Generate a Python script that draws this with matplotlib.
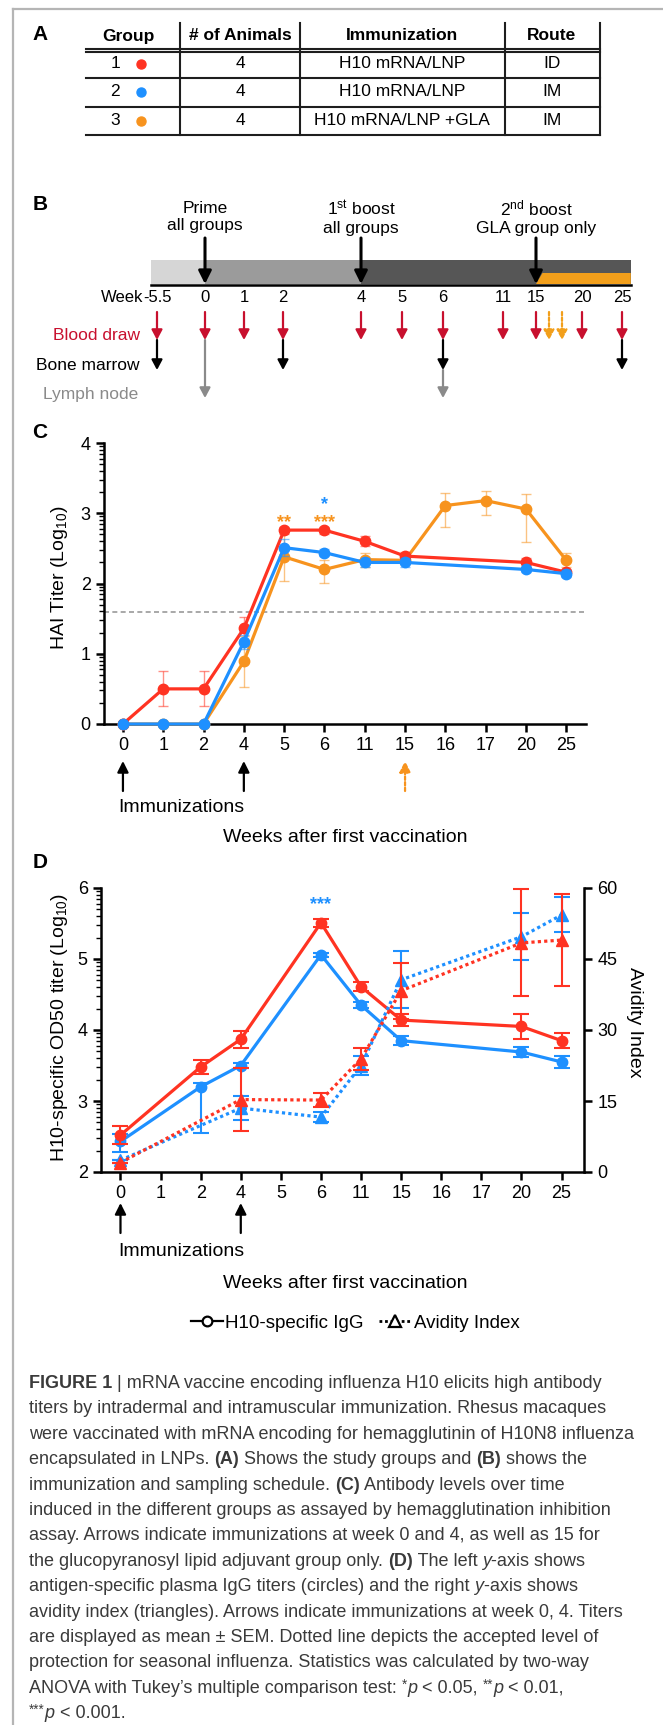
import numpy as np
import matplotlib
matplotlib.use('Agg')
import matplotlib.pyplot as plt
from matplotlib.lines import Line2D
from matplotlib.patches import Rectangle, Polygon

plt.rcParams['font.family'] = ['Liberation Sans', 'DejaVu Sans']
plt.rcParams['mathtext.fontset'] = 'custom'
plt.rcParams['mathtext.rm'] = 'Liberation Sans'
plt.rcParams['mathtext.it'] = 'Liberation Sans:italic'
plt.rcParams['mathtext.bf'] = 'Liberation Sans:bold'

nan = np.nan
# ---------------- data ----------------
# Panel A
table_headers = ['Group', '# of Animals', 'Immunization', 'Route']
groups = ['1', '2', '3']
n_animals = ['4', '4', '4']
immunization = ['H10 mRNA/LNP', 'H10 mRNA/LNP', 'H10 mRNA/LNP +GLA']
routes = ['ID', 'IM', 'IM']
RED, BLUE, ORANGE = '#FF3322', '#1E90FF', '#F7931E'
group_colors = [RED, BLUE, ORANGE]

# Panel B
sched_labels = ['Prime\nall groups', '1$^{\\mathrm{st}}$ boost\nall groups',
                '2$^{\\mathrm{nd}}$ boost\nGLA group only']
sched_weeks = [0, 4, 15]
week_ticks = [-5.5, 0, 1, 2, 4, 5, 6, 11, 15, 20, 25]
week_tick_labels = ['-5.5', '0', '1', '2', '4', '5', '6', '11', '15', '20', '25']
blood_weeks = [-5.5, 0, 1, 2, 4, 5, 6, 11, 15, 20, 25]
gla_blood_weeks = [16, 17]
marrow_weeks = [-5.5, 2, 6, 25]
lymph_weeks = [0, 6]

# Panel C  (HAI titer, log10)
weeks = ['0', '1', '2', '4', '5', '6', '11', '15', '16', '17', '20', '25']
hai_g1 = [0, 0.50, 0.50, 1.36, 2.76, 2.76, 2.60, 2.39, nan, nan, 2.30, 2.16]
hai_g1_sem = [0, 0.25, 0.25, 0.17, 0.05, 0.05, 0.07, 0.06, nan, nan, 0.06, 0.03]
hai_g2 = [0, 0, 0, 1.17, 2.51, 2.44, 2.30, 2.30, nan, nan, 2.20, 2.14]
hai_g2_sem = [0, 0, 0, 0.10, 0.12, 0.05, 0.07, 0.07, nan, nan, 0.03, 0.05]
hai_g3 = [0, 0, 0, 0.89, 2.38, 2.20, 2.34, 2.33, 3.11, 3.18, 3.06, 2.33]
hai_g3_sem_lo = [0, 0, 0, 0.36, 0.35, 0.19, 0.10, 0.05, 0.30, 0.21, 0.47, 0.10]
hai_g3_sem_hi = [0, 0, 0, 0.36, 0.35, 0.13, 0.10, 0.05, 0.18, 0.14, 0.21, 0.10]
protection_level = 1.6
imm_weeks = ['0', '4']
gla_boost_weeks = ['15']

# Panel D
igg_g1 = [2.52, nan, 3.48, 3.87, nan, 5.51, 4.61, 4.14, nan, nan, 4.05, 3.85]
igg_g1_sem = [0.13, nan, 0.10, 0.12, nan, 0.06, 0.06, 0.09, nan, nan, 0.17, 0.11]
igg_g2 = [2.43, nan, 3.20, 3.50, nan, 5.06, 4.35, 3.85, nan, nan, 3.69, 3.55]
igg_g2_sem_lo = [0.15, nan, 0.65, 0.04, nan, 0.03, 0.04, 0.06, nan, nan, 0.07, 0.08]
igg_g2_sem_hi = [0.10, nan, 0.05, 0.04, nan, 0.03, 0.04, 0.06, nan, nan, 0.07, 0.08]
avid_g1 = [2.0, nan, nan, 15.3, nan, 15.2, 23.9, 38.3, nan, nan, 48.4, 49.0]
avid_g1_sem = [0, nan, nan, 6.6, nan, 1.5, 2.4, 5.9, nan, nan, 11.3, 9.8]
avid_g2 = [2.5, nan, nan, 13.5, nan, 11.6, 22.5, 40.6, nan, nan, 49.7, 54.3]
avid_g2_sem = [0, nan, nan, 2.5, nan, 1.0, 2.0, 6.0, nan, nan, 5.0, 3.7]

# ---------------- figure ----------------
W, H = 663, 1725
fig = plt.figure(figsize=(W / 100, H / 100), dpi=100)


def rect(l, t, r, b):
    return [l / W, 1 - b / H, (r - l) / W, (b - t) / H]


ax0 = fig.add_axes([0, 0, 1, 1])
ax0.set_xlim(0, W)
ax0.set_ylim(H, 0)
ax0.axis('off')

# frame
ax0.plot([13, 13], [9, H], color='#b5b5b5', lw=1.6)
ax0.plot([13, W], [9, 9], color='#b5b5b5', lw=1.6)

for lab, y in zip('ABCD', [35, 205, 433, 862]):
    ax0.text(40, y, lab, fontsize=15, fontweight='bold', ha='center', va='center')

# ---------------- Panel A table ----------------
tc = '#1e1e1e'
col_edges = [86, 180, 300, 505, 600]
for y in [48.5, 51.5, 78, 107, 135]:
    ax0.plot([col_edges[0], col_edges[-1]], [y, y], color=tc, lw=1.5)
for x in col_edges[1:]:
    ax0.plot([x, x], [23, 135], color=tc, lw=1.5)
header_x = [128, 240, 402, 552]
for hx, ht in zip(header_x, table_headers):
    ax0.text(hx, 36, ht, fontsize=12.5, fontweight='bold', ha='center', va='center')
row_y = [63.5, 92, 120.5]
for i, ry in enumerate(row_y):
    ax0.text(115, ry, groups[i], fontsize=12.5, ha='center', va='center')
    ax0.plot([141], [ry], 'o', color=group_colors[i], ms=6.5)
    ax0.text(240, ry, n_animals[i], fontsize=12.5, ha='center', va='center')
    ax0.text(402, ry, immunization[i], fontsize=12.5, ha='center', va='center')
    ax0.text(552, ry, routes[i], fontsize=12.5, ha='center', va='center')

# ---------------- Panel B timeline ----------------
kw = np.array([-5.5, 0, 4, 6, 11, 15, 17, 20, 25])
kp = np.array([157, 205, 361, 443, 503, 536, 562, 582, 622], float)
sl = (kp[1] - kp[0]) / (kw[1] - kw[0])
sr = (kp[-1] - kp[-2]) / (kw[-1] - kw[-2])


def fwd(w):
    w = np.asarray(w, float)
    out = np.interp(w, kw, kp)
    out = np.where(w < kw[0], kp[0] + (w - kw[0]) * sl, out)
    out = np.where(w > kw[-1], kp[-1] + (w - kw[-1]) * sr, out)
    return out


def inv(p):
    p = np.asarray(p, float)
    out = np.interp(p, kp, kw)
    out = np.where(p < kp[0], kw[0] + (p - kp[0]) / sl, out)
    out = np.where(p > kp[-1], kw[-1] + (p - kp[-1]) / sr, out)
    return out


axB = fig.add_axes([0, 0, 1, 1])
axB.set_xscale('function', functions=(fwd, inv))
axB.set_xlim(float(inv(0)), float(inv(W)))
axB.set_ylim(H, 0)
axB.axis('off')


def arrow(ax, x, y0, y1, color, ls='-', lw=1.6, hl=0.6, hw=0.32, ms=10, **kw_):
    ax.annotate('', xy=(x, y1), xytext=(x, y0), annotation_clip=False,
                arrowprops=dict(arrowstyle='-|>,head_length=%g,head_width=%g' % (hl, hw),
                                color=color, lw=lw, linestyle=ls, shrinkA=0, shrinkB=0,
                                mutation_scale=ms), **kw_)


bar_start, bar_end = -6.2, 26.1
phase_edges = [bar_start, 0, 4, bar_end]
phase_colors = ['#d6d6d6', '#9b9b9b', '#565656']
for (a, b), c in zip(zip(phase_edges[:-1], phase_edges[1:]), phase_colors):
    axB.add_patch(Rectangle((a, 260), b - a, 24, facecolor=c, edgecolor='none'))
axB.add_patch(Polygon([(15, 284), (15.5, 273), (bar_end, 273), (bar_end, 284)],
                      closed=True, facecolor='#F29F1B', edgecolor='none'))
axB.plot([bar_start, bar_end], [284.5, 284.5], color='black', lw=1.8)

for w, lab in zip(sched_weeks, sched_labels):
    axB.text(w, 217, lab, fontsize=12.5, ha='center', va='center', linespacing=1.2)
    arrow(axB, w, 238, 284, 'black', lw=2.2, hl=0.7, hw=0.35, ms=11)

ax0.text(143, 298, 'Week', fontsize=12, ha='right', va='center')
for w, lab in zip(week_ticks, week_tick_labels):
    axB.text(w, 298, lab, fontsize=12, ha='center', va='center')

CRIM = '#C8102E'
GRAY = '#8a8a8a'
for w in blood_weeks:
    arrow(axB, w, 312, 340, CRIM)
for w in gla_blood_weeks:
    arrow(axB, w, 312, 340, '#F29F1B', ls=(0, (1.5, 1)))
for w in marrow_weeks:
    arrow(axB, w, 340, 370, 'black')
for w in lymph_weeks:
    arrow(axB, w, 370 if w in marrow_weeks else 340, 398, GRAY)

ax0.text(140, 335, 'Blood draw', fontsize=12.5, color=CRIM, ha='right', va='center')
ax0.text(140, 365, 'Bone marrow', fontsize=12.5, color='black', ha='right', va='center')
ax0.text(138, 395, 'Lymph node', fontsize=12.5, color=GRAY, ha='right', va='center')


# ---------------- helpers for C/D ----------------
def series(ax, x, vals, lo, hi, color, marker='o', ls='-', z=3, ealpha=1.0,
           elw=1.5, cap=5, ms=7.5, lw=2.3):
    v = np.asarray(vals, float)
    m = ~np.isnan(v)
    lo = np.asarray(lo, float)
    hi = np.asarray(hi, float)
    ax.errorbar(x[m], v[m], yerr=[lo[m], hi[m]], fmt='none', ecolor=color,
                alpha=ealpha, elinewidth=elw, capsize=cap, capthick=elw,
                zorder=z, clip_on=False)
    ax.plot(x[m], v[m], color=color, lw=lw, ls=ls, marker=marker, ms=ms,
            zorder=z + 0.5, clip_on=False)


def style_axis(ax, lw=1.8):
    ax.set_facecolor('none')
    for s in ['top', 'right']:
        ax.spines[s].set_visible(False)
    for s in ['left', 'bottom']:
        ax.spines[s].set_linewidth(lw)
    ax.tick_params(which='major', direction='out', length=6, width=lw, labelsize=13)
    ax.tick_params(which='minor', direction='out', length=3.5, width=1.0)


x = np.arange(len(weeks))

# ---------------- Panel C ----------------
axC = fig.add_axes(rect(104, 443, 586, 724))
style_axis(axC)
axC.set_xlim(-0.47, 11.49)
axC.set_ylim(0, 4)
axC.set_xticks(x)
axC.set_xticklabels(weeks)
axC.set_yticks([0, 1, 2, 3, 4])
axC.set_yticks([n + np.log10(k) for n in range(4) for k in range(2, 10)], minor=True)
axC.axhline(protection_level, color='#9a9a9a', lw=1.2, ls=(0, (3, 2)), zorder=1)

series(axC, x, hai_g3, hai_g3_sem_lo, hai_g3_sem_hi, ORANGE, z=3, ealpha=0.55, elw=1.0, cap=3.5)
series(axC, x, hai_g1, hai_g1_sem, hai_g1_sem, RED, z=4, ealpha=0.55, elw=1.0, cap=3.5)
series(axC, x, hai_g2, hai_g2_sem, hai_g2_sem, BLUE, z=5, ealpha=0.55, elw=1.0, cap=3.5)

axC.text(weeks.index('5'), 2.86, '**', color=ORANGE, fontsize=13, fontweight='bold', ha='center', va='center')
axC.text(weeks.index('6'), 2.86, '***', color=ORANGE, fontsize=13, fontweight='bold', ha='center', va='center')
axC.text(weeks.index('6'), 3.12, '*', color=BLUE, fontsize=13, fontweight='bold', ha='center', va='center')


def under_arrows(ax, top_px, bot_px, y0_px, y1_px, wk, color, ls='-'):
    f0 = (bot_px - y0_px) / (bot_px - top_px)
    f1 = (bot_px - y1_px) / (bot_px - top_px)
    for w in wk:
        ax.annotate('', xy=(weeks.index(w), f1), xytext=(weeks.index(w), f0),
                    xycoords=ax.get_xaxis_transform(), annotation_clip=False,
                    arrowprops=dict(arrowstyle='-|>,head_length=0.6,head_width=0.3',
                                    color=color, lw=1.6, linestyle=ls, shrinkA=0,
                                    shrinkB=0, mutation_scale=11))


under_arrows(axC, 443, 724, 791, 761, imm_weeks, 'black')
under_arrows(axC, 443, 724, 791, 761, gla_boost_weeks, ORANGE, ls=(0, (1.5, 1)))

ax0.text(118, 807, 'Immunizations', fontsize=14, ha='left', va='center')
ax0.text(345, 838, 'Weeks after first vaccination', fontsize=14, ha='center', va='center')
ax0.text(59, 578, 'HAI Titer (Log$_{10}$)', fontsize=14, rotation=90, ha='center', va='center')

# ---------------- Panel D ----------------
axD = fig.add_axes(rect(101, 888, 584, 1172))
style_axis(axD)
axD.set_xlim(-0.486, 11.56)
axD.set_ylim(2, 6)
axD.set_xticks(x)
axD.set_xticklabels(weeks)
axD.set_yticks([2, 3, 4, 5, 6])
axD.set_yticks([n + np.log10(k) for n in range(2, 6) for k in range(2, 10)], minor=True)

series(axD, x, igg_g2, igg_g2_sem_lo, igg_g2_sem_hi, BLUE, z=3, cap=5.5)
series(axD, x, igg_g1, igg_g1_sem, igg_g1_sem, RED, z=4, cap=5.5)

ax2 = axD.twinx()
ax2.set_facecolor('none')
for s in ['top', 'left', 'bottom']:
    ax2.spines[s].set_visible(False)
ax2.spines['right'].set_linewidth(1.8)
ax2.set_ylim(0, 60)
ax2.set_yticks([0, 15, 30, 45, 60])
ax2.tick_params(direction='out', length=6, width=1.8, labelsize=13)
dots = (0, (1, 1))
series(ax2, x, avid_g2, avid_g2_sem, avid_g2_sem, BLUE, marker='^', ls=dots, z=3, cap=5.5, ms=8.5)
series(ax2, x, avid_g1, avid_g1_sem, avid_g1_sem, RED, marker='^', ls=dots, z=4, cap=5.5, ms=8.5)

axD.text(weeks.index('6'), 5.76, '***', color=BLUE, fontsize=13, fontweight='bold', ha='center', va='center')

under_arrows(axD, 888, 1172, 1233, 1203, imm_weeks, 'black')
ax0.text(118, 1252, 'Immunizations', fontsize=14, ha='left', va='center')
ax0.text(345, 1283, 'Weeks after first vaccination', fontsize=14, ha='center', va='center')
ax0.text(59, 1027, 'H10-specific OD50 titer (Log$_{10}$)', fontsize=14, rotation=90, ha='center', va='center')
ax0.text(634, 1022, 'Avidity Index', fontsize=14, rotation=270, ha='center', va='center')

handles = [Line2D([0], [0], color='black', lw=1.6, marker='o', ms=7, mfc='white', mec='black', mew=1.6),
           Line2D([0], [0], color='black', lw=2, ls=(0, (1, 1)), marker='^', ms=8, mfc='white', mec='black', mew=1.6)]
fig.legend(handles, ['H10-specific IgG', 'Avidity Index'], loc='center',
           bbox_to_anchor=(355 / W, 1 - 1323 / H), ncol=2, frameon=False, fontsize=13.5,
           handlelength=1.7, handletextpad=0.15, columnspacing=0.8)

# ---------------- caption ----------------
caption = [
    [('FIGURE 1', 'b'), (' | mRNA vaccine encoding influenza H10 elicits high antibody', 'n')],
    [('titers by intradermal and intramuscular immunization. Rhesus macaques', 'n')],
    [('were vaccinated with mRNA encoding for hemagglutinin of H10N8 influenza', 'n')],
    [('encapsulated in LNPs. ', 'n'), ('(A)', 'b'), (' Shows the study groups and ', 'n'), ('(B)', 'b'), (' shows the', 'n')],
    [('immunization and sampling schedule. ', 'n'), ('(C)', 'b'), (' Antibody levels over time', 'n')],
    [('induced in the different groups as assayed by hemagglutination inhibition', 'n')],
    [('assay. Arrows indicate immunizations at week 0 and 4, as well as 15 for', 'n')],
    [('the glucopyranosyl lipid adjuvant group only. ', 'n'), ('(D)', 'b'), (' The left ', 'n'), ('y', 'i'), ('-axis shows', 'n')],
    [('antigen-specific plasma IgG titers (circles) and the right ', 'n'), ('y', 'i'), ('-axis shows', 'n')],
    [('avidity index (triangles). Arrows indicate immunizations at week 0, 4. Titers', 'n')],
    [('are displayed as mean \u00b1 SEM. Dotted line depicts the accepted level of', 'n')],
    [('protection for seasonal influenza. Statistics was calculated by two-way', 'n')],
    [('ANOVA with Tukey\u2019s multiple comparison test: ', 'n'), ('*', 's'), ('p', 'i'), (' < 0.05, ', 'n'),
     ('**', 's'), ('p', 'i'), (' < 0.01,', 'n')],
    [('***', 's'), ('p', 'i'), (' < 0.001.', 'n')],
]

renderer = fig.canvas.get_renderer()
CAPC = '#3a3a3a'


def props(style, fs):
    d = dict(fontsize=fs, color=CAPC)
    if style == 'b':
        d['fontweight'] = 'bold'
    elif style == 'i':
        d['fontstyle'] = 'italic'
    elif style == 's':
        d['fontsize'] = fs * 0.75
    return d


def measure(s, p):
    t1 = ax0.text(0, 0, 'I' + s + 'I', **p)
    t2 = ax0.text(0, 0, 'II', **p)
    w = t1.get_window_extent(renderer).width - t2.get_window_extent(renderer).width
    t1.remove()
    t2.remove()
    return w


w12 = measure(caption[2][0][0], props('n', 12))
cfs = 12 * 605 / w12

for i, line in enumerate(caption):
    xx = 29.0
    base = 1388 + i * 25.4
    for s, st in line:
        p = props(st, cfs)
        yy = base - (cfs * 0.25 * 100 / 72 if st == 's' else 0)
        ax0.text(xx, yy, s, ha='left', va='baseline', **p)
        xx += measure(s, p)

fig.savefig('out.png', dpi=100)
